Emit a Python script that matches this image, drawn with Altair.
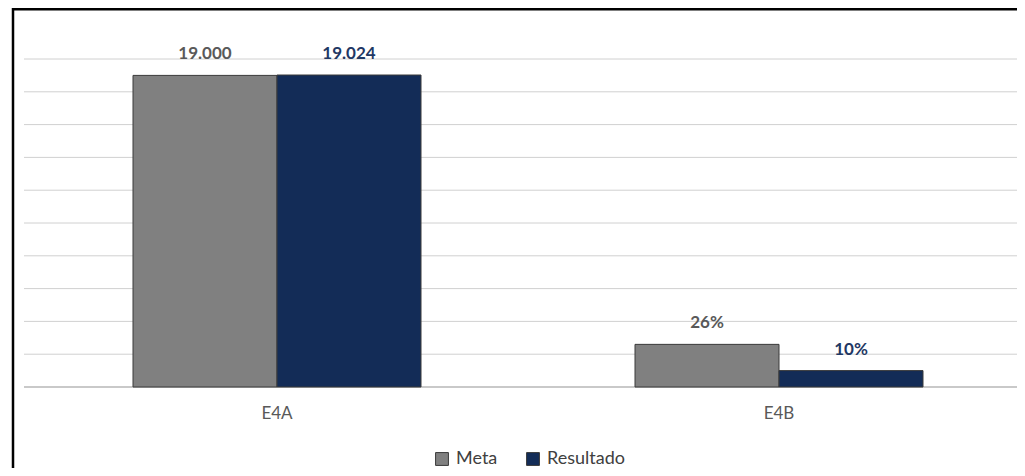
import altair as alt
import pandas as pd

# ---- data ----
categorias = ["E4A", "E4B"]
series = ["Meta", "Resultado"]
meta_altura = [19.0, 2.6]          # bar heights on the hidden 0-20 axis
resultado_altura = [19.024, 1.0]
meta_rotulo = ["19.000", "26%"]
resultado_rotulo = ["19.024", "10%"]
y_ticks = [0, 2, 4, 6, 8, 10, 12, 14, 16, 18, 20]

rows = []
for i, c in enumerate(categorias):
    rows.append({"categoria": c, "serie": series[0], "altura": meta_altura[i], "rotulo": meta_rotulo[i]})
    rows.append({"categoria": c, "serie": series[1], "altura": resultado_altura[i], "rotulo": resultado_rotulo[i]})
df = pd.DataFrame(rows)
grid_df = pd.DataFrame({"tick": y_ticks})
cat_df = pd.DataFrame({"categoria": categorias})

FONT = "Lato"
W, H = 993, 328

x_scale = alt.Scale(paddingInner=0.4263, paddingOuter=0.2022, align=0.537)
y_scale = alt.Scale(domain=[0, 20], nice=False)

x_enc = alt.X("categoria:N", sort=categorias, scale=x_scale, axis=None)
y_enc = alt.Y("altura:Q", scale=y_scale, axis=None)
xo_enc = alt.XOffset("serie:N", sort=series)

grid = alt.Chart(grid_df).mark_rule(color="#d0d0d0", strokeWidth=1).encode(
    y=alt.Y("tick:Q", scale=y_scale, axis=None),
    x=alt.value(0), x2=alt.value(W),
)
baseline = alt.Chart(grid_df).transform_filter(alt.datum.tick == 0).mark_rule(
    color="#bfbfbf", strokeWidth=1.5).encode(
    y=alt.Y("tick:Q", scale=y_scale, axis=None),
    x=alt.value(0), x2=alt.value(W),
)

base = alt.Chart(df)

bars = base.mark_bar(stroke="#3a3a3a", strokeWidth=1).encode(
    x=x_enc,
    xOffset=xo_enc,
    y=y_enc,
    color=alt.Color("serie:N", sort=series,
                    scale=alt.Scale(domain=series, range=["#808080", "#132c57"]),
                    legend=alt.Legend(title=None, orient="none", direction="horizontal",
                                      legendX=409, legendY=391, symbolType="square",
                                      symbolSize=165, symbolStrokeColor="#3a3a3a",
                                      symbolStrokeWidth=1, labelFont=FONT, labelFontSize=18,
                                      labelColor="#404040", columnPadding=26, labelOffset=5)),
)

labels = base.mark_text(font=FONT, fontSize=17, fontWeight="bold", baseline="bottom", dy=-12).encode(
    x=x_enc,
    xOffset=xo_enc,
    y=y_enc,
    text="rotulo:N",
    color=alt.condition(alt.datum.serie == "Meta", alt.value("#595959"), alt.value("#1f3864")),
)

cat_labels = alt.Chart(cat_df).mark_text(font=FONT, fontSize=17, color="#595959",
                                         baseline="middle").encode(
    x=x_enc,
    y=alt.value(H + 27),
    text="categoria:N",
)

frame_df = pd.DataFrame({"k": [0]})
frame_top = alt.Chart(frame_df).mark_rule(color="black", strokeWidth=2.5).encode(
    x=alt.value(-12), x2=alt.value(W + 20), y=alt.value(-49.8))
frame_left = alt.Chart(frame_df).mark_rule(color="black", strokeWidth=2.5).encode(
    x=alt.value(-11), y=alt.value(-51), y2=alt.value(H + 120))

chart = alt.layer(grid, baseline, bars, labels, cat_labels, frame_top, frame_left).properties(
    width=W, height=H,
    autosize=alt.AutoSizeParams(type="none"),
    padding={"left": 16, "top": 51, "right": 0, "bottom": 81},
    background="white",
).configure_view(strokeWidth=0)

chart.save("out.html", embed_options={"renderer": "svg", "actions": False})
